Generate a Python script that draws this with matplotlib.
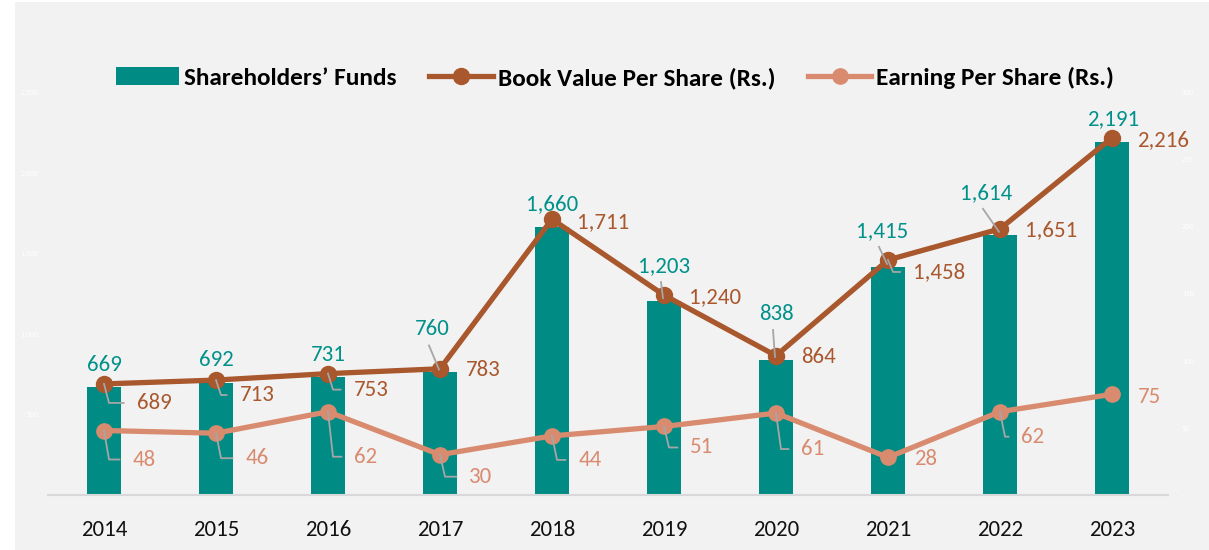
import matplotlib
matplotlib.use("Agg")
import matplotlib.pyplot as plt
from matplotlib import font_manager
from matplotlib.lines import Line2D
from matplotlib.patches import Patch, Rectangle
from matplotlib.transforms import IdentityTransform

# ---------------- data ----------------
years = ["2014", "2015", "2016", "2017", "2018", "2019", "2020", "2021", "2022", "2023"]
shareholders_funds = [669, 692, 731, 760, 1660, 1203, 838, 1415, 1614, 2191]
book_value = [689, 713, 753, 783, 1711, 1240, 864, 1458, 1651, 2216]
eps = [48, 46, 62, 30, 44, 51, 61, 28, 62, 75]
left_ticks = [0, 500, 1000, 1500, 2000, 2500]
right_ticks = [0, 50, 100, 150, 200, 250, 300]

# ---------------- layout (label offsets in pixels: dx right, dy down) ----------------
sf_off = [(0, -22), (0, -23), (0, -22), (-8, -43), (0, -23), (0, -35), (0, -46), (-6, -36), (-14, -42), (1, -23)]
sf_lead = [False, False, False, True, False, True, True, True, True, False]
bv_off = [(50, 19), (41, 15), (43, 16), (43, 1), (51, 3), (51, 2), (43, 1), (51, 12), (51, 1), (51, 2)]
bv_lead = [True, True, True, False, False, False, False, True, False, False]
eps_off = [(40, 29), (41, 25), (38, 45), (41, 22), (38, 24), (38, 21), (37, 36), (38, 2), (33, 25), (38, 3)]
eps_lead = [True, True, True, True, True, True, True, False, True, False]

TEAL = "#008B84"
TEAL_TXT = "#00918A"
BROWN = "#A9572C"
SALMON = "#D98B6F"
LEAD = "#A6A6A6"
BG = "#F2F2F2"

avail = {f.name for f in font_manager.fontManager.ttflist}
fam = [f for f in ["Carlito", "Lato", "DejaVu Sans"] if f in avail]
plt.rcParams["font.family"] = fam

W, H, DPI = 1209, 550, 100
fig = plt.figure(figsize=(W / DPI, H / DPI), dpi=DPI, facecolor="white")
fig.patches.append(Rectangle((15 / W, 0), 1 - 15 / W, 1 - 2 / H, transform=fig.transFigure,
                             facecolor=BG, edgecolor="none", zorder=-10))
ax = fig.add_axes([48 / W, 55 / H, (1168 - 48) / W, (495 - 92) / H])
ax.set_facecolor("none")
ax2 = ax.twinx()
ax2.set_facecolor("none")

x = list(range(len(years)))
ax.bar(x, shareholders_funds, width=0.31, color=TEAL, zorder=2)
ax.plot(x, book_value, color=BROWN, lw=3.8, marker="o", ms=11.5, zorder=4, solid_capstyle="round")
ax2.plot(x, eps, color=SALMON, lw=3.8, marker="o", ms=11, zorder=4, solid_capstyle="round")

ax.set_xlim(-0.5, len(years) - 0.5)
ax.set_ylim(0, 2500)
ax2.set_ylim(0, 300)
ax.set_xticks(x)
ax.set_xticklabels(years, fontsize=16.5, color="#111111")
ax.tick_params(axis="x", length=0, pad=18)
ax.set_yticks(left_ticks)
ax.set_yticklabels(["-" if v == 0 else f"{v:,}" for v in left_ticks], fontsize=5.5, color="white")
ax.tick_params(axis="y", length=0, pad=7)
ax2.set_yticks(right_ticks)
ax2.set_yticklabels(["-" if v == 0 else f"{v:,}" for v in right_ticks], fontsize=5.5, color="white")
ax2.tick_params(axis="y", length=0, pad=10)
for a in (ax, ax2):
    for s in ["top", "right", "left"]:
        a.spines[s].set_visible(False)
ax.spines["bottom"].set_color("#D9D9D9")
ax.spines["bottom"].set_linewidth(1.5)
ax2.spines["bottom"].set_visible(False)
ax2.set_zorder(ax.get_zorder() + 1)

renderer = fig.canvas.get_renderer()
LBL = 16.5


def label(axis, xi, yi, txt, off, color):
    t = axis.annotate(txt, (xi, yi), xytext=(off[0], -off[1]), textcoords="offset pixels",
                      ha="center", va="center", fontsize=LBL, color=color, zorder=6)
    return t


def disp(axis, xi, yi):
    return axis.transData.transform((xi, yi))


lead_kw = dict(color=LEAD, lw=1.3, transform=IdentityTransform(), zorder=7)

# Shareholders funds labels
for i, v in enumerate(shareholders_funds):
    label(ax, x[i], v, f"{v:,}", sf_off[i], TEAL_TXT)
    if sf_lead[i]:
        px, py = disp(ax, x[i], v)
        lx, ly = px + sf_off[i][0], py - sf_off[i][1]
        fig.lines.append(Line2D([lx - 3, px - 1], [ly - 16, py + 3], **lead_kw))

# Book value labels
for i, v in enumerate(book_value):
    t = label(ax, x[i], v, f"{v:,}", bv_off[i], BROWN)
    if bv_lead[i]:
        px, py = disp(ax, x[i], v)
        bb = t.get_window_extent(renderer)
        yy = py - bv_off[i][1]
        fig.lines.append(Line2D([px, px + 5, bb.x0 - 13], [py, yy, yy], **lead_kw))

# EPS labels
for i, v in enumerate(eps):
    t = label(ax2, x[i], v, f"{v:,}", eps_off[i], SALMON)
    if eps_lead[i]:
        px, py = disp(ax2, x[i], v)
        bb = t.get_window_extent(renderer)
        yy = py - eps_off[i][1]
        fig.lines.append(Line2D([px, px + 5, bb.x0 - 13], [py, yy, yy], **lead_kw))

handles = [
    Patch(facecolor=TEAL, edgecolor="none"),
    Line2D([], [], color=BROWN, lw=3.8, marker="o", ms=11.5),
    Line2D([], [], color=SALMON, lw=3.8, marker="o", ms=11),
]
names = ["Shareholders\u2019 Funds", "Book Value Per Share (Rs.)", "Earning Per Share (Rs.)"]
fig.legend(handles, names, loc="center", bbox_to_anchor=(615 / W, 1 - 78 / H), ncol=3,
           frameon=False, prop={"weight": "bold", "size": 18.2}, handlelength=2.5,
           handleheight=0.7, handletextpad=0.2, columnspacing=1.3)

fig.savefig("out.png", dpi=DPI, facecolor=fig.get_facecolor())
